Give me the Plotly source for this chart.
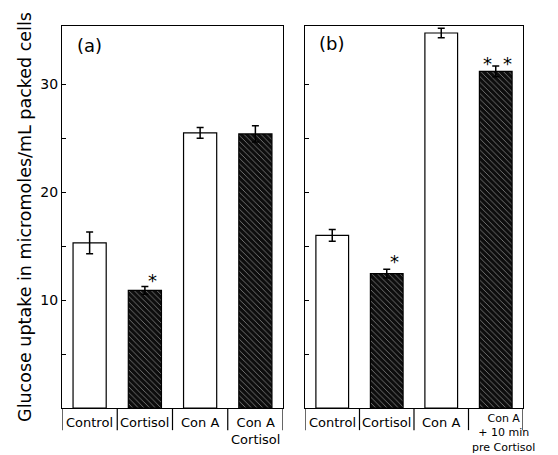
import plotly.graph_objects as go

# ---- data ----
labels_a = [["Control"], ["Cortisol"], ["Con A"], ["Con A", "Cortisol"]]
values_a = [15.3, 10.9, 25.5, 25.4]
errors_a = [1.0, 0.35, 0.5, 0.75]
dark_a = [False, True, False, True]

labels_b = [["Control"], ["Cortisol"], ["Con A"], ["Con A", "+ 10 min", "pre Cortisol"]]
values_b = [16.0, 12.45, 34.75, 31.2]
errors_b = [0.55, 0.4, 0.45, 0.5]
dark_b = [False, True, False, True]

y_ticks = [5, 10, 15, 20, 25, 30]
y_ticktext = ["", "10", "", "20", "", "30"]
y_title = "Glucose uptake in micromoles/mL packed cells"

FONT = "DejaVu Sans"
# the page body has an 8px margin, so the figure is laid out 8px up/left of the page
fig = go.Figure()


def add_panel(vals, errs, dark, xref, yref):
    xs = list(range(len(vals)))
    fill = ["#0d0d0d" if d else "white" for d in dark]
    fg = ["#5a5a5a" if d else "white" for d in dark]
    shapes = ["\\" if d else "" for d in dark]
    fig.add_trace(go.Bar(
        x=xs, y=vals, width=0.6,
        marker=dict(color=fill, line=dict(color="black", width=1.2),
                    pattern=dict(shape=shapes, fgcolor=fg, size=4, solidity=0.2)),
        error_y=dict(type="data", array=errs, color="black", thickness=1.5, width=3.5),
        xaxis=xref, yaxis=yref, showlegend=False, hoverinfo="skip",
    ))


add_panel(values_a, errors_a, dark_a, "x", "y")
add_panel(values_b, errors_b, dark_b, "x2", "y2")

YMAX = 35.4
common_x = dict(range=[-0.5, 3.5], showline=True, linecolor="black", linewidth=1.2,
                mirror=True, showticklabels=False, ticks="", showgrid=False, zeroline=False, fixedrange=True)
fig.update_layout(
    width=558, height=455,
    margin=dict(l=54, r=43, t=18, b=55),
    paper_bgcolor="white", plot_bgcolor="white",
    font=dict(family=FONT, color="black"),
    xaxis=dict(domain=[0, 0.4794], **common_x),
    xaxis2=dict(domain=[0.5271, 1.0], anchor="y2", **common_x),
    yaxis=dict(range=[0, YMAX], tickvals=y_ticks, ticktext=y_ticktext, ticks="inside",
               ticklen=4, tickcolor="black", showline=True, linecolor="black", linewidth=1.2,
               mirror=True, showgrid=False, zeroline=False, tickfont=dict(size=14, family=FONT),
               title=dict(text=y_title, font=dict(size=17.5, family=FONT), standoff=4)),
    yaxis2=dict(range=[0, YMAX], anchor="x2", tickvals=y_ticks, ticks="inside", ticklen=4,
                tickcolor="black", showticklabels=False, showline=True, linecolor="black",
                linewidth=1.2, mirror=True, showgrid=False, zeroline=False),
)

# category labels and dividers
for xr, yr, labs in (("x", "y", labels_a), ("x2", "y2", labels_b)):
    for i, lines in enumerate(labs):
        three = len(lines) > 2
        fig.add_annotation(x=i, xref=xr, y=0, yref=yr, text="<br>".join(lines),
                           showarrow=False, yanchor="top", yshift=-2 if three else -5,
                           xshift=8 if three else 0, align="center",
                           font=dict(size=11 if three else 13, family=FONT, color="black"))
    for b in [-0.5, 0.5, 1.5, 2.5, 3.5]:
        fig.add_shape(type="line", xref=xr, x0=b, x1=b, yref="paper", y0=0, y1=-0.058,
                      line=dict(color="black", width=1.2))

# panel labels
fig.add_annotation(text="(a)", xref="x domain", yref="y domain", x=0.058, y=0.95,
                   xanchor="left", yanchor="middle", showarrow=False,
                   font=dict(size=18, family=FONT, color="black"))
fig.add_annotation(text="(b)", xref="x2 domain", yref="y2 domain", x=0.055, y=0.955,
                   xanchor="left", yanchor="middle", showarrow=False,
                   font=dict(size=18, family=FONT, color="black"))

# significance asterisks
star_font = dict(size=18, family=FONT, color="black")
fig.add_annotation(text="*", x=1, xref="x", y=values_a[1] + errors_a[1] + 0.6, yref="y",
                   xshift=8, showarrow=False, font=star_font)
fig.add_annotation(text="*", x=1, xref="x2", y=values_b[1] + errors_b[1] + 0.7, yref="y2",
                   xshift=8, showarrow=False, font=star_font)
for dx in (-8, 12):
    fig.add_annotation(text="*", x=3, xref="x2", y=values_b[3] + errors_b[3] + 0.2, yref="y2",
                       xshift=dx, showarrow=False, font=star_font)

fig.write_html("out.html")
